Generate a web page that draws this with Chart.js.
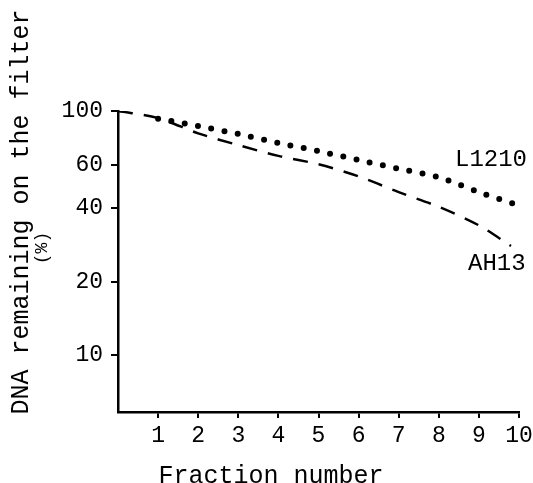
<!DOCTYPE html>
<html lang="en">
<head>
    <meta charset="UTF-8">
    <title>DNA remaining on the filter</title>
    <script src="https://cdn.jsdelivr.net/npm/chart.js"></script>
    <style>
        body { margin: 0; background: #fff; }
        canvas { display: block; }
    </style>
</head>
<body>
    <canvas id="chart" width="533" height="483"></canvas>
    <script>
        // values (y in %)
        const xAH13 = [0, 1, 2, 3, 4, 5, 6, 7, 8, 9, 9.8];
        const ah13 = [100, 93.5, 81, 72.5, 65.5, 60.5, 54, 46.5, 40.5, 34, 28];
        const xL1210 = [1, 2, 3, 4, 5, 6, 7, 8, 9, 9.9];
        const l1210 = [93, 86.8, 80.5, 74, 68.5, 63, 58, 53.5, 46.5, 41.5];
        const xTicks = [1, 2, 3, 4, 5, 6, 7, 8, 9, 10];
        const yTicks = [10, 20, 40, 60, 100];

        const mono = 'Liberation Mono, Courier New, monospace';

        // axis titles and curve labels
        const textPlugin = {
            id: 'texts',
            afterDraw(chart) {
                const ctx = chart.ctx;
                ctx.save();
                ctx.fillStyle = '#000';
                ctx.textBaseline = 'middle';
                ctx.textAlign = 'center';
                ctx.font = '25px ' + mono;
                ctx.fillText('Fraction number', 271, 476);

                ctx.font = '24px ' + mono;
                ctx.textAlign = 'left';
                ctx.fillText('L1210', 455, 160);
                ctx.fillText('AH13', 468, 264);

                ctx.font = '25px ' + mono;
                ctx.translate(21, 212);
                ctx.rotate(-Math.PI / 2);
                ctx.textAlign = 'center';
                ctx.fillText('DNA remaining on the filter', 0, 0);
                ctx.restore();

                ctx.save();
                ctx.translate(42, 248);
                ctx.rotate(-Math.PI / 2);
                ctx.fillStyle = '#000';
                ctx.textAlign = 'center';
                ctx.textBaseline = 'middle';
                ctx.font = '18px ' + mono;
                ctx.fillText('(%)', 0, 0);
                ctx.restore();
            }
        };

        new Chart(document.getElementById('chart'), {
            type: 'line',
            data: {
                datasets: [{
                    label: 'AH13',
                    data: xAH13.map((x, i) => ({ x: x, y: ah13[i] })),
                    borderColor: '#000',
                    borderWidth: 2.5,
                    borderDash: [15, 11],
                    pointRadius: 0,
                    tension: 0.3,
                    fill: false
                }, {
                    label: 'L1210',
                    data: xL1210.map((x, i) => ({ x: x, y: l1210[i] })),
                    borderColor: '#000',
                    borderWidth: 6,
                    borderDash: [0, 13.5],
                    borderCapStyle: 'round',
                    pointRadius: 0,
                    tension: 0.3,
                    fill: false
                }]
            },
            options: {
                responsive: false,
                animation: false,
                layout: { padding: { left: 0, right: 14, top: 111, bottom: 0 } },
                plugins: {
                    legend: { display: false },
                    tooltip: { enabled: false }
                },
                scales: {
                    x: {
                        type: 'linear',
                        min: 0,
                        max: 10,
                        afterBuildTicks: s => { s.ticks = xTicks.map(v => ({ value: v })); },
                        afterFit: s => { s.height = 71; s.paddingLeft = 0; s.paddingRight = 0; },
                        grid: { drawOnChartArea: false, tickLength: 6, color: '#000', lineWidth: 2 },
                        border: { display: true, color: '#000', width: 2.5 },
                        ticks: {
                            color: '#000',
                            font: { family: mono, size: 23 },
                            padding: 4,
                            maxRotation: 0
                        }
                    },
                    y: {
                        type: 'logarithmic',
                        min: 5.85,
                        max: 100,
                        afterBuildTicks: s => { s.ticks = yTicks.map(v => ({ value: v })); },
                        afterFit: s => { s.width = 118; s.paddingTop = 0; s.paddingBottom = 0; },
                        grid: { drawOnChartArea: false, tickLength: 7, color: '#000', lineWidth: 2 },
                        border: { display: true, color: '#000', width: 2.5 },
                        ticks: {
                            color: '#000',
                            font: { family: mono, size: 23 },
                            padding: 8,
                            callback: v => String(v)
                        }
                    }
                }
            },
            plugins: [textPlugin]
        });
    </script>
</body>
</html>
